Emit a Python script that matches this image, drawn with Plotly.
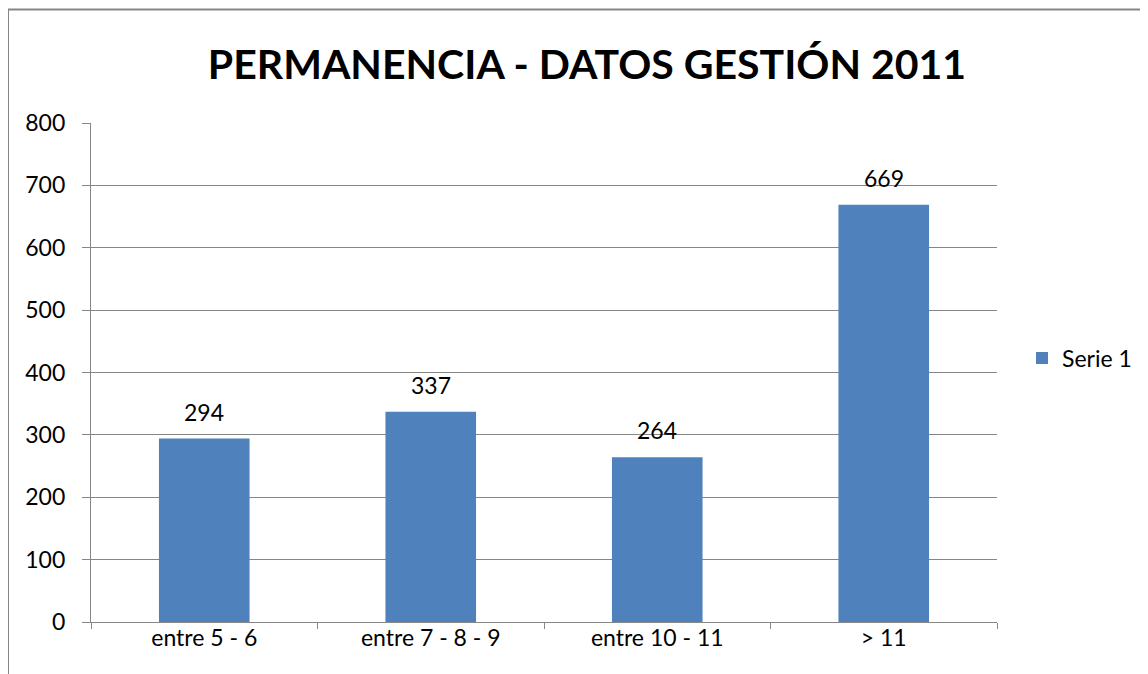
import plotly.graph_objects as go

categories = ["entre 5 - 6", "entre 7 - 8 - 9", "entre 10 - 11", "> 11"]
values = [294, 337, 264, 669]
series_name = "Serie 1"
y_ticks = [0, 100, 200, 300, 400, 500, 600, 700, 800]
title = "PERMANENCIA - DATOS GESTIÓN 2011"

W, H = 1148, 674
OFF = 8  # page offset of the figure div
L, R, T, B = 91, 997, 123, 622
pw, ph = R - L, B - T

def px(x):
    return (x - L) / pw

def py(y):
    return (B - y) / ph

FONT = "Lato"
FS = 23
GRAY = "#868686"

fig = go.Figure()
fig.add_trace(go.Bar(
    x=categories, y=values, name=series_name,
    marker=dict(color="#4F81BD", line=dict(width=0)),
    cliponaxis=False,
))

for c, v in zip(categories, values):
    fig.add_annotation(x=c, y=v, text=str(v), showarrow=False, yanchor="middle",
                       yshift=27, font=dict(family=FONT, size=FS, color="#000000"))

fig.update_layout(
    width=W, height=H,
    margin=dict(l=L - OFF, r=W - (R - OFF), t=T - OFF, b=H - (B - OFF), pad=0),
    paper_bgcolor="white", plot_bgcolor="white",
    bargap=0.6,
    showlegend=True,
    legend=dict(x=px(1022), y=py(358), xanchor="left", yanchor="middle",
                font=dict(family=FONT, size=FS, color="#000000"),
                bgcolor="rgba(0,0,0,0)", itemwidth=30),
    title=dict(text="<b>" + title + "</b>", x=px(587), xref="paper", xanchor="center",
               y=1 - (65 - OFF) / H, yanchor="middle",
               font=dict(family=FONT, size=41, color="#000000")),
    font=dict(family=FONT, size=FS, color="#000000"),
)

fig.update_yaxes(range=[0, 800], tickvals=y_ticks, showgrid=True, gridcolor=GRAY, gridwidth=1.3,
                 showline=True, linecolor=GRAY, linewidth=1.3, ticks="outside", ticklen=8,
                 tickcolor=GRAY, tickwidth=1.3, tickfont=dict(family=FONT, size=FS), zeroline=False,
                 ticklabelstandoff=12)
fig.update_xaxes(showline=True, linecolor=GRAY, linewidth=1.3, ticks="outside", ticklen=6,
                 tickcolor=GRAY, tickwidth=1.3, tickson="boundaries", showgrid=False,
                 tickfont=dict(family=FONT, size=FS), ticklabelstandoff=-5)

# outer chart frame (left and top edges visible)
fig.add_shape(type="line", xref="paper", yref="paper",
              x0=px(8), y0=py(700), x1=px(8), y1=py(9.5),
              line=dict(color=GRAY, width=2))
fig.add_shape(type="line", xref="paper", yref="paper",
              x0=px(8), y0=py(9.5), x1=px(1170), y1=py(9.5),
              line=dict(color=GRAY, width=2))

fig.write_html("out.html")
